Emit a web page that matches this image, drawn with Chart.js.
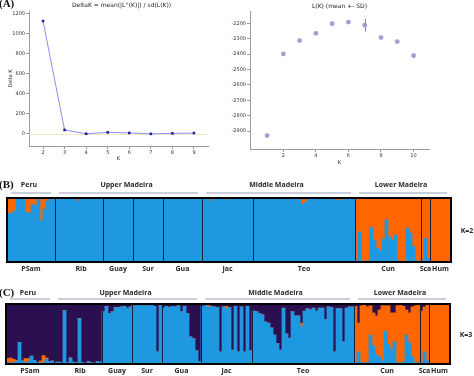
<!DOCTYPE html>
<html>
<head>
<meta charset="utf-8">
<script src="https://cdn.jsdelivr.net/npm/chart.js@4.4.1/dist/chart.umd.min.js"></script>
<style>
  body { margin: 0; background: #fff; }
  #wrap { position: relative; width: 474px; height: 376px; overflow: hidden; background: #fff; }
  canvas { position: absolute; }
</style>
</head>
<body>
<div id="wrap">
  <canvas id="dk" width="222" height="170" style="left:0;top:0"></canvas>
  <canvas id="lk" width="252" height="170" style="left:222px;top:0"></canvas>
  <canvas id="k2" width="474" height="108" style="left:0;top:172px"></canvas>
  <canvas id="k3" width="474" height="96" style="left:0;top:280px"></canvas>
</div>
<script>
// ---- panel A data ----
var kVals = [2, 3, 4, 5, 6, 7, 8, 9];
var deltaK = [1125, 40, 2, 16, 10, 1, 6, 9];
var dkTicks = [0, 200, 400, 600, 800, 1000, 1200];

var lkK = [1, 2, 3, 4, 5, 6, 7, 8, 9, 10];
var lkMean = [-2930, -2399, -2312, -2265, -2203, -2192, -2212, -2293, -2319, -2410];
var lkSD = [4, 3, 3, 4, 5, 3, 34, 5, 4, 9];
var lkXTicks = [2, 4, 6, 8, 10];
var lkYTicks = [-2900, -2800, -2700, -2600, -2500, -2400, -2300, -2200];

// ---- panels B / C data ----
var popNames = ['PSam', 'Rib', 'Guay', 'Sur', 'Gua', 'Jac', 'Teo', 'Cun', 'Sca', 'Hum'];
var popSizes = [16, 16, 10, 10, 13, 17, 34, 22, 3, 7];
var regionNames = ['Peru', 'Upper Madeira', 'Middle Madeira', 'Lower Madeira'];
var regionFirstPop = [0, 1, 5, 7];
var regionLastPop = [0, 4, 6, 9];

// K=2 : share of the blue cluster (orange is the rest)
var k2Blue = [
  0.76,0.76,0.80,0.98,0.99,1,0.78,0.76,0.90,0.88,0.98,0.64,0.82,0.95,0.98,0.99, // PSam
  0.97,1,1,1,1,1,1,0.95,1,1,1,1,1,1,1,1,                                         // Rib
  1,1,1,1,1,1,1,1,1,1,                                                           // Guay
  1,1,1,1,1,1,1,1,1,1,                                                           // Sur
  1,1,1,1,1,1,1,1,1,1,1,1,1,                                                     // Gua
  1,1,1,0.95,1,1,1,1,0.96,1,1,1,1,1,1,1,1,                                       // Jac
  1,1,1,1,1,1,1,1,1,1,1,1,1,1,1,1,0.90,0.93,1,1,1,1,1,1,1,1,1,0.97,0.96,0.97,1,1,1,1, // Teo
  0.02,0.47,0.02,0,0.02,0.54,0.34,0.21,0.18,0.36,0.66,0.39,0.34,0.42,0.02,0,0.01,0.53,0.45,0.24,0.02,0, // Cun
  0.03,0.37,0.05,                                                                // Sca
  0,0,0,0,0,0,0                                                                  // Hum
];

// K=3 : blue and orange shares (dark purple is the rest)
var k3Blue = [
  0.02,0.02,0.02,0.05,0.36,0.05,0.02,0.04,0.13,0.06,0.02,0.02,0.02,0.08,0.04,0.05, // PSam
  0.02,0.03,0.02,0.89,0.02,0.10,0.03,0.02,0.76,0.02,0.01,0.04,0.02,0.01,0.04,0.03, // Rib
  0.87,0.96,0.84,0.87,0.94,0.94,0.95,0.96,0.93,0.95,                               // Guay
  0.97,0.97,0.98,0.97,0.97,0.97,0.98,0.96,0.20,0.97,                               // Sur
  0.93,0.96,0.94,0.96,0.95,0.97,0.87,0.96,0.84,0.45,0.42,0.22,0.04,                // Gua
  0.96,0.97,0.95,0.96,0.95,0.94,0.20,0.95,0.92,0.94,0.23,0.96,0.20,0.95,0.20,0.96,0.22, // Jac
  0.88,0.87,0.84,0.82,0.70,0.68,0.60,0.48,0.34,0.23,0.93,0.50,0.43,0.87,0.80,0.80,0.62,
  0.88,0.92,0.90,0.93,0.88,0.93,0.93,0.74,0.95,0.94,0.20,0.92,0.92,0.37,0.93,0.95,0.95, // Teo
  0.02,0.20,0.03,0.02,0.02,0.48,0.30,0.15,0.12,0.05,0.54,0.32,0.24,0.37,0.02,0.02,0.03,0.48,0.35,0.12,0.02,0.02, // Cun
  0.02,0.20,0.05,                                                                   // Sca
  0,0,0,0,0,0,0                                                                     // Hum
];
var k3Orange = [
  0.07,0.08,0.06,0.01,0,0,0.07,0.05,0,0,0,0.03,0.12,0.02,0,0,                     // PSam
  0.01,0,0,0,0,0,0,0,0,0,0,0,0,0,0,0,                                               // Rib
  0,0,0,0,0,0,0,0,0,0,                                                              // Guay
  0,0,0,0,0,0,0,0,0,0,                                                              // Sur
  0,0,0,0,0,0,0,0,0,0,0,0,0,                                                        // Gua
  0,0,0.03,0,0,0,0,0,0.04,0,0,0,0,0,0,0,0,                                          // Jac
  0,0,0,0,0,0,0,0,0,0,0,0,0,0,0,0,0.06,0,0,0,0,0,0,0,0,0,0,0,0,0,0,0,0,0,          // Teo
  0.94,0.48,0.94,0.96,0.93,0.49,0.55,0.65,0.78,0.92,0.43,0.65,0.61,0.48,0.95,0.96,0.93,0.42,0.50,0.83,0.95,0.96, // Cun
  0.86,0.75,0.93,                                                                   // Sca
  1,1,1,1,1,1,1                                                                     // Hum
];

var BLUE = '#1e98e0', ORANGE = '#ff6600', PURPLE = '#2c0f50';
var tickFont = { family: 'DejaVu Sans', size: 5 };

// small text painter used by both A charts
var captions = {
  id: 'captions',
  afterDraw: function(chart, args, o) {
    var ctx = chart.ctx, a = chart.chartArea;
    ctx.save();
    ctx.fillStyle = '#222';
    ctx.textAlign = 'center';
    ctx.textBaseline = 'middle';
    ctx.font = '6px "DejaVu Sans"';
    ctx.fillText(o.title, (a.left + a.right) / 2 + (o.titleShift || 0), o.titleY);
    if (o.panel) {
      ctx.font = 'bold 11px "Liberation Serif"';
      ctx.textAlign = 'left';
      ctx.fillStyle = '#111';
      ctx.fillText(o.panel, -1, 4);
    }
    ctx.restore();
  }
};

var zeroLine = {
  id: 'zeroLine',
  beforeDatasetsDraw: function(chart) {
    var ctx = chart.ctx, a = chart.chartArea, y = chart.scales.y.getPixelForValue(0);
    ctx.save();
    ctx.strokeStyle = '#efe9c2';
    ctx.lineWidth = 1;
    ctx.beginPath();
    ctx.moveTo(a.left, Math.round(y) + 0.5);
    ctx.lineTo(a.right, Math.round(y) + 0.5);
    ctx.stroke();
    ctx.restore();
  }
};

var errBars = {
  id: 'errBars',
  beforeDatasetsDraw: function(chart) {
    var ctx = chart.ctx, xs = chart.scales.x, ys = chart.scales.y;
    ctx.save();
    ctx.strokeStyle = '#7a72ae';
    ctx.lineWidth = 1;
    lkK.forEach(function(k, i) {
      var x = Math.round(xs.getPixelForValue(k)) + 0.5;
      ctx.beginPath();
      ctx.moveTo(x, ys.getPixelForValue(lkMean[i] - lkSD[i]) + 1);
      ctx.lineTo(x, ys.getPixelForValue(lkMean[i] + lkSD[i]) - 1);
      ctx.stroke();
    });
    ctx.restore();
  }
};

function axisOpts(min, max, tickList, size, title, titlePad) {
  return {
    type: 'linear', min: min, max: max,
    afterBuildTicks: function(s) { s.ticks = tickList.map(function(v) { return { value: v }; }); },
    afterFit: function(s) { if (s.isHorizontal()) s.height = size; else s.width = size; },
    grid: { display: true, drawOnChartArea: false, tickLength: 3, color: '#9a9a9a' },
    border: { display: true, color: '#9a9a9a', width: 1 },
    ticks: { font: tickFont, color: '#333', padding: 1, maxRotation: 0, autoSkip: false,
             callback: function(v) { return String(v); } },
    title: { display: !!title, text: title, font: { family: 'DejaVu Sans', size: 5 }, color: '#222', padding: titlePad }
  };
}

// ---- A left : Delta K ----
new Chart(document.getElementById('dk'), {
  type: 'line',
  data: {
    datasets: [{
      data: kVals.map(function(k, i) { return { x: k, y: deltaK[i] }; }),
      borderColor: '#8c8cf0', borderWidth: 1, tension: 0,
      pointStyle: 'rect', pointRadius: 1.8, pointBorderWidth: 0,
      pointBackgroundColor: '#1c1ca0'
    }]
  },
  options: {
    responsive: false, animation: false,
    layout: { padding: { left: 0, right: 14, top: 11, bottom: 0 } },
    plugins: {
      legend: { display: false }, tooltip: { enabled: false },
      captions: { title: "DeltaK = mean(|L''(K)|) / sd(L(K))", titleY: 5, titleShift: 3, panel: '(A)' }
    },
    scales: {
      x: axisOpts(1.35, 9.65, kVals, 24, 'K', { top: 1, bottom: 8 }),
      y: axisOpts(-120, 1225, dkTicks, 29, 'Delta K', { top: 8, bottom: 0 })
    }
  },
  plugins: [zeroLine, captions]
});

// ---- A right : L(K) ----
new Chart(document.getElementById('lk'), {
  type: 'scatter',
  data: {
    datasets: [{
      data: lkK.map(function(k, i) { return { x: k, y: lkMean[i] }; }),
      pointRadius: 2.4, pointBorderWidth: 0,
      pointBackgroundColor: '#a49cd4'
    }]
  },
  options: {
    responsive: false, animation: false,
    layout: { padding: { left: 0, right: 45, top: 11, bottom: 0 } },
    plugins: {
      legend: { display: false }, tooltip: { enabled: false },
      captions: { title: 'L(K) (mean +- SD)', titleY: 6 }
    },
    scales: {
      x: axisOpts(-0.05, 10.95, lkXTicks, 21, 'K', { top: 1, bottom: 4 }),
      y: axisOpts(-3017, -2120, lkYTicks, 28, '', 0)
    }
  },
  plugins: [errBars, captions]
});

// ---- B / C : structure bar plots ----
var individuals = [];
popNames.forEach(function(p, g) {
  for (var i = 0; i < popSizes[g]; i++) individuals.push(p + (i + 1));
});

var structDeco = {
  id: 'structDeco',
  beforeDatasetsDraw: function(chart, args, o) {
    // the top cluster colour under the bars, so no hairline gaps show between columns
    var a = chart.chartArea, ctx = chart.ctx;
    ctx.save();
    ctx.fillStyle = o.under;
    ctx.fillRect(a.left, a.top, a.right - a.left, (a.bottom - a.top) * 0.5);
    ctx.restore();
  },
  afterDatasetsDraw: function(chart, args, o) {
    var ctx = chart.ctx, a = chart.chartArea, xs = chart.scales.x;
    var step = xs.getPixelForValue(1) - xs.getPixelForValue(0);
    function edge(i) { return xs.getPixelForValue(i) - step / 2; }
    var starts = [], s = 0;
    popSizes.forEach(function(n) { starts.push(s); s += n; });

    ctx.save();
    // group separators
    ctx.strokeStyle = '#15203a';
    ctx.lineWidth = 1;
    starts.forEach(function(st, g) {
      if (g === 0) return;
      var x = Math.round(edge(st)) + 0.5;
      ctx.beginPath(); ctx.moveTo(x, a.top); ctx.lineTo(x, a.bottom); ctx.stroke();
    });
    // frame
    ctx.strokeStyle = '#000';
    ctx.lineWidth = 2;
    ctx.strokeRect(a.left, a.top, a.right - a.left, a.bottom - a.top);

    // population labels
    ctx.fillStyle = '#2a2a2a';
    ctx.font = 'bold 7px "Open Sans"';
    ctx.textAlign = 'center';
    ctx.textBaseline = 'middle';
    starts.forEach(function(st, g) {
      var cx = (edge(st) + edge(st + popSizes[g])) / 2;
      ctx.fillText(popNames[g], cx + (o.popShift[g] || 0), a.bottom + o.popGap);
    });

    // region brackets
    regionNames.forEach(function(r, j) {
      var x0 = edge(starts[regionFirstPop[j]]) + 4;
      var lp = regionLastPop[j];
      var x1 = edge(starts[lp] + popSizes[lp]) - 4;
      ctx.strokeStyle = '#b7bfd0';
      ctx.lineWidth = 1.5;
      ctx.beginPath(); ctx.moveTo(x0, a.top - o.lineGap); ctx.lineTo(x1, a.top - o.lineGap); ctx.stroke();
      ctx.fillStyle = '#2a2a2a';
      ctx.fillText(r, (x0 + x1) / 2 - 2, a.top - o.labelGap);
    });

    // K label and panel letter
    ctx.fillText(o.kText, a.right + o.kGap, (a.top + a.bottom) / 2 + 1);
    ctx.font = 'bold 11px "Liberation Serif"';
    ctx.textAlign = 'left';
    ctx.fillStyle = '#111';
    ctx.fillText(o.panel, -1, a.top - o.labelGap);
    ctx.restore();
  }
};

// 148 individuals x 3 px = 444 px wide plot area, so each bar sits on whole pixels
function structChart(id, sets, pad, deco) {
  return new Chart(document.getElementById(id), {
    type: 'bar',
    data: {
      labels: individuals,
      datasets: sets.map(function(d) {
        return { data: d.values, backgroundColor: d.color, borderWidth: 0, inflateAmount: 0.4,
                 barPercentage: 1, categoryPercentage: 1, stack: 'q' };
      })
    },
    options: {
      responsive: false, animation: false,
      layout: { padding: pad },
      plugins: { legend: { display: false }, tooltip: { enabled: false }, structDeco: deco },
      scales: {
        x: { stacked: true, display: false },
        y: { stacked: true, display: false, min: 0, max: 1 }
      }
    },
    plugins: [structDeco]
  });
}

structChart('k2', [
  { values: k2Blue, color: BLUE },
  { values: k2Blue.map(function(v) { return 1 - v; }), color: ORANGE }
], { left: 7, right: 23, top: 26, bottom: 18 },
{ popGap: 7, lineGap: 5, labelGap: 13, kGap: 16, kText: 'K=2', panel: '(B)', under: BLUE,
  popShift: [0, 2, 0, 0, 0, 0, 0, 0, 0, 0] });

structChart('k3', [
  { values: k3Blue, color: BLUE },
  { values: k3Orange, color: ORANGE },
  { values: k3Blue.map(function(v, i) { return 1 - v - k3Orange[i]; }), color: PURPLE }
], { left: 6, right: 24, top: 24, bottom: 12 },
{ popGap: 7, lineGap: 5, labelGap: 11, kGap: 16, kText: 'K=3', panel: '(C)', under: PURPLE,
  popShift: [0, 2, 0, 0, 0, 0, 0, 0, 0, 0] });
</script>
</body>
</html>
